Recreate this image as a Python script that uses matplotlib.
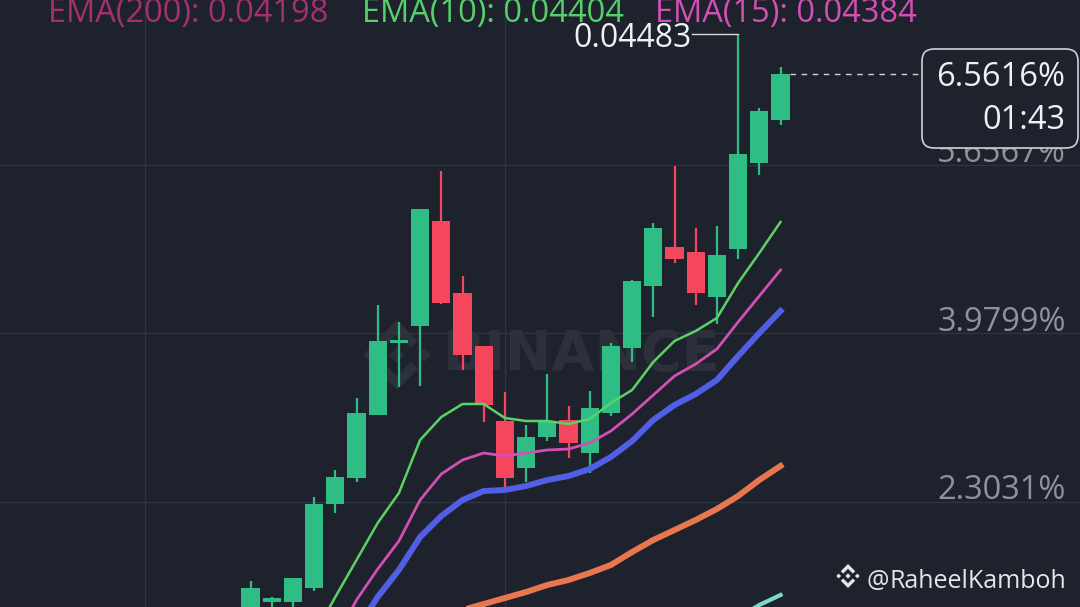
import numpy as np
import matplotlib.pyplot as plt
from matplotlib.patches import FancyBboxPatch, Polygon
from matplotlib.transforms import IdentityTransform

BG = '#1e222d'
GRID = '#2f3440'
UP = '#2ebd85'
DOWN = '#f6465d'
plt.rcParams['font.family'] = ['Open Sans', 'DejaVu Sans']

# candles, % change, left to right
opens = [1.2024, 1.3021, 1.3021, 1.4416, 2.2787, 2.5379, 3.1657, 3.8833, 4.0527, 5.0991,
         4.3816, 3.8534, 3.1059, 2.6375, 2.9465, 3.1159, 2.7870, 3.1856, 3.8334, 4.4513,
         4.8400, 4.7902, 4.3417, 4.8201, 5.6771, 6.1057]
closes = [1.4416, 1.3419, 1.5413, 2.2787, 2.5478, 3.1856, 3.9032, 3.9132, 5.2187, 4.2819,
          3.7637, 3.2654, 2.5379, 2.9465, 3.0959, 2.8867, 3.2355, 3.8534, 4.5012, 5.0294,
          4.7204, 4.3816, 4.7603, 5.7668, 6.1954, 6.5616]
highs = [1.5114, 1.3519, 1.5413, 2.3485, 2.6176, 3.3351, 4.2620, 4.0925, 5.2187, 5.5974,
         4.5510, 3.8534, 3.3949, 3.0660, 3.5743, 3.2554, 3.4049, 3.8833, 4.5111, 5.0792,
         5.6472, 5.0294, 5.0493, 6.9628, 6.2253, 6.6339]
lows = [1.1426, 1.2223, 1.2522, 1.4117, 2.1890, 2.4980, 3.1657, 3.4448, 3.4547, 4.2719,
        3.6142, 3.0959, 2.4482, 2.4980, 2.9066, 2.7372, 2.5877, 3.1557, 3.6939, 4.1424,
        4.6805, 4.2620, 4.0726, 4.7204, 5.5575, 6.0558]

# moving averages (first candle index, values)
ema10_start = 3
ema10 = [0.9732, 1.3519, 1.7206, 2.0894, 2.3884, 2.9166, 3.1458, 3.2753, 3.2753, 3.1358,
         3.1059, 3.1059, 3.0760, 3.1258, 3.2853, 3.4149, 3.6939, 3.9032, 4.0029, 4.1324,
         4.4812, 4.7802, 5.0891]
ema15_start = 4
ema15 = [0.9234, 1.3220, 1.6309, 1.9100, 2.3186, 2.5777, 2.7172, 2.7870, 2.7571, 2.7870,
         2.8169, 2.8269, 2.8867, 3.0063, 3.1757, 3.3650, 3.5544, 3.6740, 3.8235, 4.0925,
         4.3517, 4.6108]
blue_start = 5
blue = [1.0230, 1.3519, 1.6210, 1.9499, 2.1591, 2.3186, 2.4083, 2.4183, 2.4581, 2.5179,
        2.5578, 2.6275, 2.7471, 2.9066, 3.1159, 3.2654, 3.3750, 3.5145, 3.7537, 3.9829,
        4.2022]
orange_start = 9
orange = [1.1625, 1.2223, 1.2821, 1.3419, 1.4017, 1.4715, 1.5213, 1.5911, 1.6708, 1.8004,
          1.9200, 2.0196, 2.1193, 2.2289, 2.3585, 2.5179, 2.6574]
cyan_start = 23
cyan = [1.1426, 1.2722, 1.3718]

yticks = [2.3031, 3.9799, 5.6567]
ytick_labels = ['2.3031%', '3.9799%', '5.6567%']
vgrid = [-5, 12]
high_label = '0.04483'
last_label = '6.5616%'
countdown = '01:43'
legend = [('EMA(200): 0.04198', '#a3306f'), ('EMA(10): 0.04404', '#55d06b'),
          ('EMA(15): 0.04384', '#d24fb4')]


def binance_logo(fig, rect, color, zorder=1):
    lax = fig.add_axes(rect, zorder=zorder)
    lax.set_xlim(-1, 1)
    lax.set_ylim(-1, 1)
    lax.axis('off')
    shapes = [
        [(0, 0.22), (0.22, 0), (0, -0.22), (-0.22, 0)],
        [(-0.78, 0.2), (-0.58, 0), (-0.78, -0.2), (-0.98, 0)],
        [(0.78, 0.2), (0.98, 0), (0.78, -0.2), (0.58, 0)],
        [(0, 1), (0.6, 0.4), (0.4, 0.2), (0, 0.6), (-0.4, 0.2), (-0.6, 0.4)],
        [(0, -1), (0.6, -0.4), (0.4, -0.2), (0, -0.6), (-0.4, -0.2), (-0.6, -0.4)],
    ]
    for s in shapes:
        lax.add_patch(Polygon(s, closed=True, color=color, lw=0))
    return lax


fig = plt.figure(figsize=(10.8, 6.07), dpi=100, facecolor=BG)
ax = fig.add_axes([0, 0, 1, 1])
ax.set_facecolor(BG)
ax.set_xlim(-11.816, 39.127)
ax.set_ylim(1.2522, 7.3016)
for s in ax.spines.values():
    s.set_visible(False)
ax.set_xticks([])
ax.set_yticks([])

for t in yticks:
    ax.axhline(t, color=GRID, lw=1, zorder=0)
for v in vgrid:
    ax.axvline(v, color=GRID, lw=1, zorder=0)

# watermark
ax.text(0.539, 0.415, 'BINANCE', transform=ax.transAxes, ha='center', va='center',
        fontsize=40, fontweight='bold', family='DejaVu Sans', color='#2b303b', zorder=0.5)
binance_logo(fig, [362 / 1080, 217 / 607, 70 / 1080, 70 / 607], '#2b303b', zorder=0.5)
ax.set_zorder(1)
ax.patch.set_alpha(0)

x = np.arange(len(opens))
o = np.array(opens)
c = np.array(closes)
col = np.where(c >= o, UP, DOWN)
ax.vlines(x, lows, highs, colors=col, lw=1.6, zorder=2)
ax.bar(x, c - o, bottom=o, width=0.85, color=col, zorder=3)

ax.plot(np.arange(cyan_start, cyan_start + len(cyan)), cyan, color='#7adcc8', lw=3, zorder=4)
ax.plot(np.arange(orange_start, orange_start + len(orange)), orange, color='#e8764f', lw=4.3, zorder=4)
ax.plot(np.arange(blue_start, blue_start + len(blue)), blue, color='#505fe6', lw=4.3, zorder=4)
ax.plot(np.arange(ema15_start, ema15_start + len(ema15)), ema15, color='#d24fb4', lw=2, zorder=5)
ax.plot(np.arange(ema10_start, ema10_start + len(ema10)), ema10, color='#5ad264', lw=1.8, zorder=5)

# y labels inside on the right
for t, lab in zip(yticks, ytick_labels):
    ax.annotate(lab, (0.987, t), xycoords=('axes fraction', 'data'), xytext=(0, 2),
                textcoords='offset points', ha='right', va='baseline', fontsize=23.5,
                color='#8e929b', zorder=6)

# highest price marker
hi = int(np.argmax(highs))
ax.plot([hi - 2.17, hi], [highs[hi], highs[hi]], color='#d8d8d8', lw=1, zorder=4)
ax.annotate(high_label, (hi - 2.2, highs[hi]), xytext=(0, -3), textcoords='offset points',
            ha='right', va='center', fontsize=23, color='#f0f0f0', zorder=6)

# last price line + box
ax.plot([len(opens) - 1 + 0.45, 31.68], [closes[-1], closes[-1]], color='#cfd2d6', lw=1,
        ls=(0, (4, 4)), zorder=4)
box = FancyBboxPatch((922, 607 - 148), 156, 99, boxstyle='round,pad=0,rounding_size=12',
                     transform=IdentityTransform(), facecolor=BG, edgecolor='#cfd2d6', lw=1.2,
                     zorder=7)
ax.add_patch(box)
ax.text(1065 / 1080, 0.8715, last_label, transform=ax.transAxes, ha='right', va='center',
        fontsize=23.5, color='#f0f0f0', zorder=8)
ax.text(1065 / 1080, 0.8007, countdown, transform=ax.transAxes, ha='right', va='center',
        fontsize=23.5, color='#f0f0f0', zorder=8)

# EMA legend on top
for (txt, clr), xl in zip(legend, [48, 362, 655]):
    ax.text(xl / 1080, (607 - 21.7) / 607, txt, transform=ax.transAxes, ha='left',
            va='baseline', fontsize=23.5, color=clr, zorder=8)

# bottom right watermark
binance_logo(fig, [836 / 1080, 19 / 607, 24 / 1080, 24 / 607], '#e6e6e6', zorder=3)
ax.text(866 / 1080, (607 - 588.3) / 607, '@', transform=ax.transAxes, ha='left',
        va='baseline', fontsize=18, color='#e6e6e6', zorder=8)
ax.text(1066 / 1080, (607 - 588.3) / 607, 'RaheelKamboh', transform=ax.transAxes,
        ha='right', va='baseline', fontsize=18, color='#e6e6e6', zorder=8)

fig.savefig('out.png', dpi=100, facecolor=BG)
